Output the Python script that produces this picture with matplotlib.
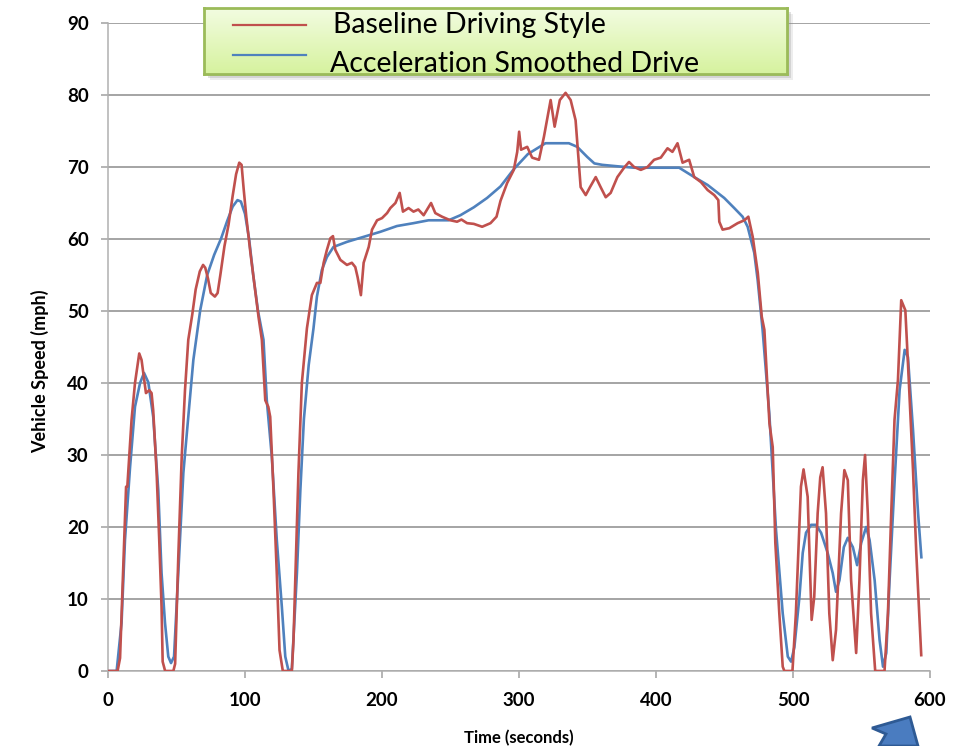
import numpy as np
import matplotlib
matplotlib.use("Agg")
import matplotlib.pyplot as plt
from matplotlib.patches import Polygon, Rectangle

# baseline (red) trace
base_t = [0, 7, 8.8, 11, 13.2, 14.1, 17.2, 19.7, 22.8, 24.5, 27.7, 30.1, 31.8, 33, 35.5,
          37.4, 39.1, 39.9, 41.7, 47.7, 49, 51.3, 53.8, 56.2, 58.6, 61.5, 64, 67, 69.4,
          71, 73, 75, 78, 80, 82, 85, 88, 91, 93.5, 95.8, 97.5, 99, 101, 104, 107, 110,
          112.3, 114.8, 117, 118.4, 120.8, 123.2, 125.2, 127.6, 134.2, 135.4, 139, 141.5,
          145.2, 148.8, 152.5, 155, 157.4, 159.8, 162.3, 164.2, 165.9, 169.6, 174.4, 178,
          180.5, 182.2, 184.6, 186.6, 190.3, 192.7, 196.4, 200, 203.7, 206.1, 209.8, 212.9,
          215.3, 219.4, 223, 226.5, 230.4, 235.8, 238.9, 243.8, 249.9, 254.8, 258, 262.1,
          267, 273.1, 279.2, 283.6, 286.5, 291.4, 296.2, 298.7, 300.1, 301.5, 306, 309.6,
          314.6, 318.2, 323.1, 326, 329.8, 334, 337.7, 341.3, 345, 348.7, 351.8, 356, 359.6,
          363.3, 366.9, 371.8, 376.7, 380.3, 384, 388.9, 393.8, 398.6, 403.5, 408.4, 412,
          415.7, 419.4, 424.2, 427.9, 432.8, 437.7, 442.5, 445.5, 446.2, 448.6, 453.5,
          459.6, 464.5, 467.4, 470.6, 474.3, 477.2, 479.1, 482.8, 485.2, 487.1, 490, 492.5,
          493.7, 499.6, 502.1, 505.8, 507.7, 510.7, 513.6, 515.5, 518, 519.9, 521.6, 524.1,
          526.5, 529, 531.4, 535.1, 537.5, 540, 542.4, 546.1, 548.5, 551, 552.6, 554.6, 557,
          560, 566.8, 569.3, 571.7, 574.1, 576.6, 579, 582, 583.9, 587.6, 590, 593.6]
base_v = [0, 0, 1.8, 13.6, 25.6, 25.6, 34.9, 40, 44.1, 43.2, 38.6, 39, 38.6, 36.2, 27.5,
          18.2, 8.9, 1.3, 0, 0, 1, 15.8, 29.7, 39, 46, 49.5, 53, 55.5, 56.4,
          56, 54.5, 52.5, 52, 52.5, 55, 59, 62, 66, 69, 70.6, 70.3, 67, 63, 58, 53.5, 49,
          46, 37.6, 36.7, 35.3, 25.1, 13.6, 2.9, 0, 0, 4.3, 27.5, 40,
          47.6, 52.2, 53.9, 53.9, 56.7, 58.5, 60.1, 60.4, 58.5, 57.1, 56.4, 56.7,
          56.1, 54.7, 52.2, 56.7, 58.9, 61.3, 62.6, 62.9, 63.6, 64.3, 65, 66.4,
          63.8, 64.3, 63.8, 64.1, 63.3, 65, 63.6, 63.1, 62.6, 62.4, 62.7, 62.2,
          62.1, 61.7, 62.2, 63.1, 65.3, 67.8, 69.6, 72.1, 74.9, 72.4, 72.8, 71.3,
          71, 74.2, 79.3, 75.6, 79.3, 80.3, 79.3, 76.5, 67.2, 66.1, 67.2, 68.6, 67.2,
          65.8, 66.4, 68.6, 69.9, 70.7, 70, 69.6, 70, 71, 71.3, 72.6, 72.1,
          73.3, 70.6, 71, 68.6, 67.9, 66.8, 66.1, 65.4, 62.4, 61.3, 61.5,
          62.2, 62.6, 63.1, 60.3, 55.3, 49.2, 47.4, 34.4, 31.1, 17.8, 8, 0.6,
          0, 0, 8, 25.6, 28, 24.2, 7.1, 10.3, 21.9, 26.9, 28.3, 21.9,
          8, 1.5, 5.7, 21.9, 27.9, 26.5, 12.6, 2.5, 12.6, 26.5, 30, 21.9, 8,
          0, 0, 8, 21.9, 34.9, 40.4, 51.5, 50.1, 42.8, 27.9, 16.4, 2.2]

# acceleration smoothed (blue) trace
smooth_t = [0, 6.3, 9.9, 12.4, 16.1, 19.7, 23.4, 26.3, 29.4, 33, 36.7, 39.1, 41.6, 44, 46,
            48.2, 51.3, 55, 58.6, 62.3, 67.3, 72.4, 77.5, 82.6, 87, 91, 94.5, 97, 100,
            103, 106, 109.5, 113.5, 115.9, 119.6, 123.2, 126.9, 129.4, 131.8, 134.2,
            137.9, 140.4, 143, 146.5, 150, 152.5, 156.1, 159.8, 164.6, 174.4, 186.6,
            198.8, 210.9, 223, 234, 248.6, 257.2, 267, 276.7, 286.5, 296.2, 306.5, 319.3,
            336.4, 342.5, 349.8, 355, 360.8, 371.8, 384, 416.9, 427.9, 437.7, 449.8, 457.1,
            463.2, 466.9, 471.7, 474.2, 477.8, 482.7, 487.6, 492.5, 496.2, 498.6, 501,
            504.7, 507.1, 509.5, 513.2, 516.8, 520.5, 525.3, 529, 531.4, 533.9, 537.1, 540,
            543.7, 546.8, 549.8, 553.4, 555.9, 559.6, 563.2, 565.7, 568.1, 570.5, 574.2,
            577.8, 581.5, 583.9, 587.6, 591.3, 593.7]
smooth_v = [0, 0, 6.7, 18.2, 28.3, 36.7, 40, 41.4, 40.1, 35.3, 25.1, 13.6, 6.7, 2, 1.1,
            2, 13.6, 27.5, 35.3, 43.2, 50.1, 55, 57.8, 60.1, 62.5, 64.5, 65.4, 65.2, 63.5,
            60, 55, 50, 46, 37.6, 29.7, 18.2, 8.9, 2, 0, 0.3,
            13.6, 25.1, 35, 42.5, 47.6, 52, 55.7, 57.5, 58.9, 59.6, 60.3,
            61, 61.8, 62.2, 62.6, 62.6, 63.3, 64.4, 65.7, 67.3, 69.7, 71.8, 73.3,
            73.3, 72.8, 71.4, 70.5, 70.3, 70.1, 69.9, 69.9, 68.6, 67.5, 65.7, 64.3,
            63.1, 61.7, 58.1, 54.3, 47.4, 35.8, 19.6, 8, 2, 1.3, 3.3,
            10.3, 16.4, 19.2, 20.3, 20.3, 19.2, 16.4, 13.6, 11, 12.6, 17.2, 18.5,
            17.2, 14.7, 17.8, 20, 18.2, 12.6, 4.3, 0.6, 2.5, 12.6, 26.5,
            39, 44.6, 43.6, 33.5, 21.9, 15.8]

labels = ["Baseline Driving Style", "Acceleration Smoothed Drive"]
RED = "#c0504d"
BLUE = "#4f81bd"
W, H = 964, 746

plt.rcParams["font.family"] = ["Lato", "DejaVu Sans"]

fig = plt.figure(figsize=(W / 100, H / 100), dpi=100)
ax = fig.add_axes([108 / W, 1 - 671 / H, (930 - 108) / W, (671 - 23) / H])

ax.plot(base_t, base_v, color=RED, lw=1.9, zorder=3)
ax.plot(smooth_t, smooth_v, color=BLUE, lw=1.9, zorder=2)

ax.set_xlim(0, 600)
ax.set_ylim(0, 90)
ax.set_xticks(range(0, 601, 100))
ax.set_yticks(range(0, 91, 10))
ax.yaxis.grid(True, color="#8c8c8c", lw=1.1)
ax.set_axisbelow(True)
for s in ("top", "right"):
    ax.spines[s].set_visible(False)
for s in ("left", "bottom"):
    ax.spines[s].set_color("#b0b0b0")
    ax.spines[s].set_linewidth(1.1)
ax.tick_params(axis="both", direction="out", length=5, width=1.1, color="#a0a0a0",
               labelsize=13.5)
ax.tick_params(axis="x", pad=10)
ax.tick_params(axis="y", pad=9)
for lab in ax.get_xticklabels() + ax.get_yticklabels():
    lab.set_fontweight("bold")
ax.set_xlabel("Time (seconds)", fontsize=12, fontweight="bold", labelpad=15)
ax.set_ylabel("Vehicle Speed (mph)", fontsize=13, fontweight="bold")
ax.yaxis.set_label_coords(-0.072, 0.462)

# legend box: green gradient with a soft shadow
x0, y0, x1, y1 = 204, 8, 787, 74
for off, a in ((6, 0.15), (4, 0.25), (2, 0.3)):
    fig.add_artist(Rectangle(((x0 + off) / W, 1 - (y1 + off) / H), (x1 - x0) / W,
                             (y1 - y0) / H, transform=fig.transFigure,
                             facecolor="#8a8a8a", alpha=a, edgecolor="none", zorder=4))
lax = fig.add_axes([x0 / W, 1 - y1 / H, (x1 - x0) / W, (y1 - y0) / H], zorder=5)
grad = np.linspace(0, 1, 64).reshape(-1, 1)
top_c = np.array([0.95, 0.99, 0.88])
bot_c = np.array([0.84, 0.95, 0.62])
img = top_c[None, None, :] * (1 - grad[:, :, None]) + bot_c[None, None, :] * grad[:, :, None]
lax.imshow(img, aspect="auto", extent=(0, 1, 0, 1))
lax.set_xlim(0, 1)
lax.set_ylim(0, 1)
lax.set_xticks([])
lax.set_yticks([])
for s in lax.spines.values():
    s.set_color("#9bbb59")
    s.set_linewidth(2)

# legend entries placed by hand, as in the original slide
lw_, lh_ = x1 - x0, y1 - y0
entries = [(labels[0], RED, 25, 333, 32.5), (labels[1], BLUE, 54.5, 330, 71.5)]
for text, col, ly, tx, tb in entries:
    lax.plot([(233 - x0) / lw_, (306 - x0) / lw_], [(y1 - ly) / lh_] * 2,
             color=col, lw=1.6)
    lax.text((tx - x0) / lw_, (y1 - tb) / lh_, text, fontsize=20.5,
             va="baseline", ha="left", color="black")

# decorative block arrow at bottom right
arrow_px = [(872, 728), (910, 717), (918, 746), (879, 746), (886, 734)]
arrow = Polygon([(x / W, 1 - y / H) for x, y in arrow_px], closed=True,
                transform=fig.transFigure, facecolor="#4a7cc0", edgecolor="#2e5a94",
                lw=2, zorder=6)
fig.add_artist(arrow)

fig.savefig("out.png", dpi=100, facecolor="white")
